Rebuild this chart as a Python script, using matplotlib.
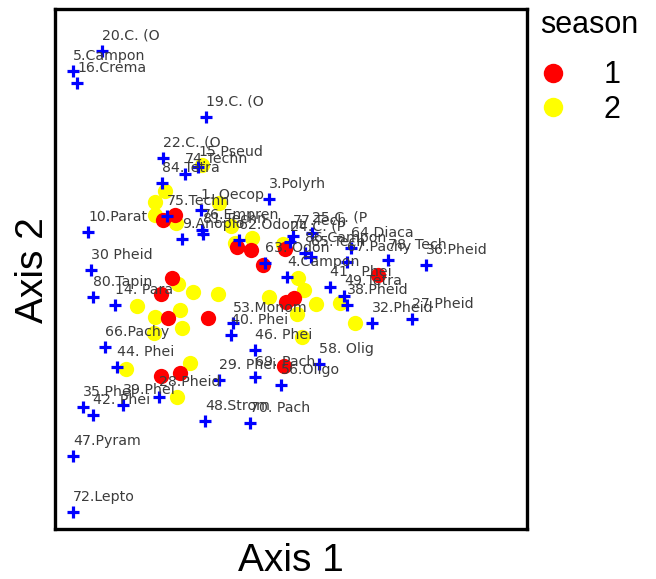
import matplotlib
matplotlib.use("Agg")
import matplotlib.pyplot as plt
from matplotlib.lines import Line2D

# species scores (axis 1, axis 2)
species = ["20.C. (O", "5.Campon", "16.Crema", "19.C. (O", "22.C. (O", "15.Pseud",
           "74.Techn", "84.Tetra", "3.Polyrh", "1. Oecop", "75.Techn", "76.Empren",
           "81.Techn", "9.Anoplo", "62.Odont", "10.Parat", "30 Pheid", "80.Tapin",
           "14. Para", "63. Odon", "77.Tech", "25.C. (P", "24.C. (P", "86.Campon",
           "65.Tech", "64.Diaca", "67.Pachy", "78. Tech", "36.Pheid", "4.Campon",
           "41.  Phei", "49.Tetra", "38.Pheid", "32.Pheid", "27.Pheid", "53.Monom",
           "40. Phei", "46. Phei", "66.Pachy", "44. Phei", "58. Olig", "29. Phei",
           "69. Pach", "56.Oligo", "28.Pheid", "39.Phei", "35.Phei", "42. Phei",
           "48.Strom", "70. Pach", "47.Pyram", "72.Lepto"]
sp_x = [-1.88, -2.17, -2.13, -0.84, -1.27, -0.92, -1.05, -1.28, -0.21, -0.89, -1.23, -0.88,
        -0.87, -1.08, -0.51, -2.02, -1.99, -1.97, -1.75, -0.25, 0.03, 0.22, 0.00, 0.15,
        0.21, 0.61, 0.57, 0.98, 1.36, -0.03, 0.40, 0.54, 0.57, 0.82, 1.22, -0.57,
        -0.59, -0.35, -1.85, -1.73, 0.29, -0.71, -0.35, -0.09, -1.31, -1.67, -2.07, -1.97,
        -0.85, -0.40, -2.17, -2.17]
sp_y = [2.49, 2.29, 2.17, 1.83, 1.42, 1.33, 1.26, 1.17, 1.01, 0.90, 0.84, 0.70,
        0.66, 0.61, 0.60, 0.68, 0.30, 0.03, -0.05, 0.37, 0.64, 0.67, 0.58, 0.47,
        0.43, 0.52, 0.38, 0.40, 0.35, 0.23, 0.13, 0.04, -0.05, -0.23, -0.19, -0.23,
        -0.35, -0.50, -0.47, -0.67, -0.64, -0.80, -0.77, -0.85, -0.97, -1.05, -1.07, -1.15,
        -1.21, -1.23, -1.56, -2.12]

# site scores, season 1
s1_x = [-1.15, -1.27, -0.53, -0.39, -0.27, -0.05, -0.04, 0.04, 0.88, -1.18, -1.29, -1.22,
        -0.82, -1.29, -1.10, -0.06]
s1_y = [0.85, 0.80, 0.53, 0.50, 0.35, 0.51, -0.02, 0.02, 0.25, 0.22, 0.06, -0.18,
        -0.18, -0.76, -0.73, -0.66]
# site scores, season 2
s2_x = [-0.88, -1.25, -1.35, -1.35, -1.14, -0.71, -0.59, -0.55, -0.38, -0.07, 0.08, 0.14,
        -0.21, 0.26, 0.50, 0.65, 0.07, 0.12, -1.12, -0.97, -0.72, -1.53, -1.35, -1.10,
        -1.08, -1.36, -1.64, -1.00, -1.13]
s2_y = [1.35, 1.09, 0.98, 0.85, 0.77, 0.97, 0.74, 0.57, 0.62, 0.56, 0.22, 0.10,
        0.03, -0.04, -0.03, -0.23, -0.14, -0.37, 0.16, 0.08, 0.06, -0.06, -0.17, -0.10,
        -0.28, -0.33, -0.69, -0.63, -0.97]
seasons = ['1', '2']

fig = plt.figure(figsize=(6.56, 5.79), dpi=100)
ax = fig.add_axes([55/656, 1-529/579, 472/656, 520/579])

ax.plot(s2_x, s2_y, 'o', color='yellow', markersize=11, markeredgewidth=0, zorder=2)
ax.plot(s1_x, s1_y, 'o', color='red', markersize=11, markeredgewidth=0, zorder=2)
ax.plot(sp_x, sp_y, '+', color='blue', markersize=9, markeredgewidth=2.3, zorder=3)
for lab, x, y in zip(species, sp_x, sp_y):
    ax.annotate(lab, (x, y), xytext=(0, 11), textcoords='offset points',
                ha='left', va='center', fontsize=10.2, color='#3c3c3c',
                family='DejaVu Sans', zorder=4)

ax.set_xlim(-2.35, 2.37)
ax.set_ylim(-2.29, 2.91)
ax.set_xticks([])
ax.set_yticks([])
for s in ax.spines.values():
    s.set_linewidth(2.4)

fig.text(291/656, 1-561/579, "Axis 1", ha='center', va='center',
         fontsize=28, family='Liberation Sans')
fig.text(33/656, 1-270/579, "Axis 2", ha='center', va='center', rotation=90,
         fontsize=28, family='Liberation Sans')

# legend
fig.text(540/656, 1-25/579, "season", ha='left', va='center',
         fontsize=22, family='Liberation Sans')
handles = [Line2D([], [], marker='o', ls='', color='red', markersize=14, markeredgewidth=0),
           Line2D([], [], marker='o', ls='', color='yellow', markersize=14, markeredgewidth=0)]
leg = fig.legend(handles, seasons, loc='upper left',
                 bbox_to_anchor=(522/656, 1-45/579), frameon=False, borderpad=0,
                 prop={'family': 'Liberation Sans', 'size': 22},
                 handlelength=1.0, handletextpad=1.17, labelspacing=0.15)

fig.savefig("out.png", dpi=100)
